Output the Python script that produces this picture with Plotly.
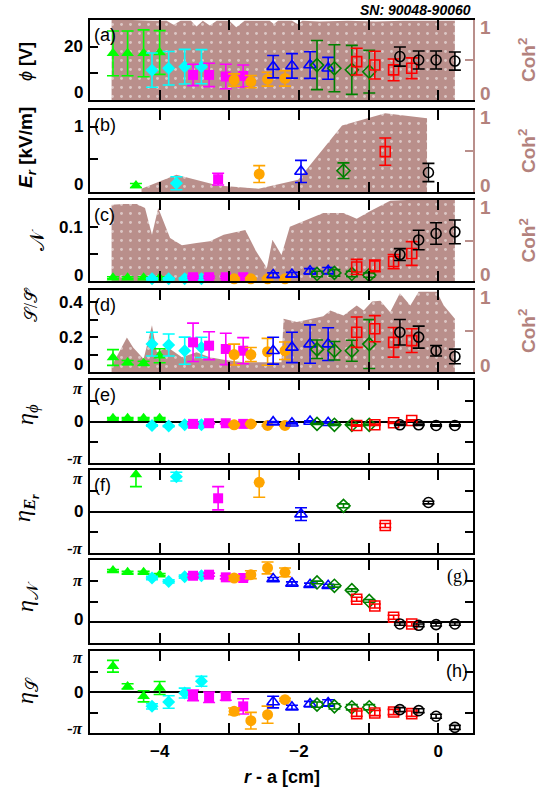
import math
import plotly.graph_objects as go

PI = math.pi

# ---------------- data ----------------
# probe radial positions r - a [cm] for each probe group (4 pins each)
x_green = [-4.67, -4.46, -4.23, -4.00]
x_cyan = [-4.11, -3.87, -3.64, -3.40]
x_magenta = [-3.52, -3.29, -3.05, -2.80]
x_orange = [-2.93, -2.69, -2.45, -2.20]
x_blue = [-2.37, -2.10, -1.84, -1.58]
x_dgreen = [-1.74, -1.49, -1.24, -0.99]
x_red = [-1.17, -0.91, -0.64, -0.38]
x_black = [-0.55, -0.28, -0.03, 0.24]

# one position per group for E_r
x_single = [-4.34, -3.76, -3.16, -2.57, -1.97, -1.36, -0.76, -0.14]

groups = ["green", "cyan", "magenta", "orange", "blue", "dgreen", "red", "black"]

# (a) phi [V]
phi_val = {"green": [17.5, 17.5, 17.5, 17.8], "cyan": [11.2, 11.9, 12.5, 12.5],
           "magenta": [9.4, 9.4, 8.8, 9.0], "orange": [7.5, 6.9, 7.8, 8.1],
           "blue": [12.5, 12.8, 13.1, 11.9], "dgreen": [13.1, 11.9, 11.3, 10.6],
           "red": [14.4, 13.1, 11.3, 11.9], "black": [16.3, 15.0, 15.0, 14.6]}
phi_err = {"green": [8.4, 8.4, 8.8, 8.2], "cyan": [6.4, 6.3, 6.5, 6.4],
           "magenta": [4.0, 4.4, 4.6, 4.1], "orange": [2.3, 2.3, 2.6, 2.9],
           "blue": [4.2, 4.6, 5.0, 4.1], "dgreen": [9.2, 8.8, 9.2, 8.0],
           "red": [5.0, 5.2, 4.1, 3.9], "black": [3.6, 3.4, 3.4, 3.4]}

# (b) E_r [kV/m]
er_val = [0.10, 0.135, 0.197, 0.275, 0.316, 0.327, 0.62, 0.30]
er_err = [0.03, 0.10, 0.09, 0.13, 0.17, 0.12, 0.21, 0.14]

# (c) N
n_val = {"green": [0.006, 0.006, 0.006, 0.006], "cyan": [0.004, 0.004, 0.004, 0.004],
         "magenta": [0.007, 0.007, 0.007, 0.007], "orange": [0.004, 0.004, 0.004, 0.004],
         "blue": [0.011, 0.012, 0.018, 0.019], "dgreen": [0.013, 0.015, 0.013, 0.011],
         "red": [0.026, 0.028, 0.036, 0.051], "black": [0.049, 0.076, 0.088, 0.091]}
n_err = {"green": [0.002, 0.002, 0.002, 0.002], "cyan": [0.002, 0.002, 0.002, 0.002],
         "magenta": [0.002, 0.002, 0.002, 0.002], "orange": [0.002, 0.002, 0.002, 0.002],
         "blue": [0.004, 0.004, 0.005, 0.006], "dgreen": [0.005, 0.006, 0.005, 0.004],
         "red": [0.014, 0.011, 0.013, 0.022], "black": [0.011, 0.018, 0.020, 0.022]}

# (d) S / S-bar
s_val = {"green": [0.083, 0.054, 0.050, 0.093], "cyan": [0.160, 0.155, 0.122, 0.141],
         "magenta": [0.170, 0.151, 0.132, 0.122], "orange": [0.100, 0.100, 0.116, 0.122],
         "blue": [0.122, 0.141, 0.160, 0.160], "dgreen": [0.130, 0.122, 0.122, 0.160],
         "red": [0.228, 0.248, 0.170, 0.180], "black": [0.228, 0.200, 0.122, 0.089]}
s_err = {"green": [0.045, 0.012, 0.012, 0.040], "cyan": [0.068, 0.063, 0.078, 0.058],
         "magenta": [0.110, 0.080, 0.090, 0.075], "orange": [0.060, 0.040, 0.077, 0.050],
         "blue": [0.077, 0.087, 0.110, 0.094], "dgreen": [0.053, 0.053, 0.060, 0.140],
         "red": [0.087, 0.075, 0.085, 0.068], "black": [0.073, 0.063, 0.030, 0.042]}

# (e) eta_phi [rad]
ephi_val = {"green": [0.25, 0.25, 0.25, 0.25], "cyan": [-0.30, -0.35, -0.25, -0.25],
            "magenta": [-0.18, -0.13, -0.13, -0.18], "orange": [-0.25, -0.18, -0.30, -0.30],
            "blue": [-0.05, -0.13, 0.0, -0.10], "dgreen": [-0.18, -0.25, -0.25, -0.25],
            "red": [-0.30, -0.25, -0.10, 0.08], "black": [-0.25, -0.25, -0.30, -0.30]}
ephi_err = {g: [0.05, 0.05, 0.05, 0.05] for g in groups}

# (f) eta_Er [rad]
eer_val = [2.81, 2.64, 1.00, 2.21, -0.20, 0.43, -1.06, 0.68]
eer_err = [0.93, 0.33, 0.88, 1.13, 0.48, 0.15, 0.15, 0.10]

# (g) eta_N [rad]
en_val = {"green": [3.91, 3.78, 3.78, 3.60], "cyan": [3.35, 3.09, 3.45, 3.52],
          "magenta": [3.52, 3.60, 3.40, 3.35], "orange": [3.35, 3.60, 4.11, 3.78],
          "blue": [3.27, 2.94, 2.84, 2.76], "dgreen": [3.01, 2.76, 2.43, 1.61],
          "red": [1.74, 1.23, 0.38, -0.13], "black": [-0.13, -0.23, -0.18, -0.13]}
en_err = {"green": [0.08, 0.08, 0.08, 0.08], "cyan": [0.12, 0.12, 0.12, 0.12],
          "magenta": [0.12, 0.12, 0.12, 0.12], "orange": [0.15, 0.30, 0.45, 0.33],
          "blue": [0.12, 0.12, 0.12, 0.12], "dgreen": [0.10, 0.10, 0.10, 0.10],
          "red": [0.15, 0.15, 0.15, 0.15], "black": [0.10, 0.10, 0.10, 0.10]}

# (h) eta_S [rad]
es_val = {"green": [1.97, 0.43, -0.33, 0.31], "cyan": [-1.10, -0.77, -0.08, 0.82],
          "magenta": [-0.26, -0.41, -0.33, -1.10], "orange": [-1.48, -2.20, -1.74, -0.59],
          "blue": [-0.77, -1.17, -0.92, -0.84], "dgreen": [-0.97, -1.10, -1.17, -1.17],
          "red": [-1.66, -1.61, -1.53, -1.66], "black": [-1.35, -1.43, -1.86, -2.71]}
es_err = {"green": [0.45, 0.20, 0.43, 0.50], "cyan": [0.20, 0.48, 0.38, 0.38],
          "magenta": [0.40, 0.40, 0.30, 0.58], "orange": [0.25, 0.64, 0.66, 0.10],
          "blue": [0.45, 0.15, 0.20, 0.25], "dgreen": [0.20, 0.20, 0.20, 0.20],
          "red": [0.20, 0.20, 0.20, 0.20], "black": [0.15, 0.15, 0.15, 0.15]}

# coherence^2 curves (right axes)
coh_a_x = [-4.69, -4.40, -4.10, -3.90, -3.80, -3.70, -3.55, -3.47, -3.38, -3.28, -3.18,
           -3.00, -2.90, -2.78, -2.60, -2.42, -2.36, -2.30, -2.10, -2.02, -1.95, -1.70,
           -1.30, -0.90, -0.50, -0.10, 0.24]
coh_a = [1.0, 1.0, 0.99, 0.99, 0.94, 0.99, 0.99, 0.92, 0.99, 0.93, 0.99,
         0.99, 0.91, 0.99, 0.99, 0.99, 0.95, 0.99, 0.99, 0.95, 0.99, 0.98,
         0.99, 0.98, 0.99, 0.99, 0.99]
coh_b_x = [-4.26, -3.76, -3.16, -2.58, -2.01, -1.38, -0.76, -0.16]
coh_b = [0.04, 0.21, 0.08, 0.04, 0.15, 0.81, 0.96, 0.90]
coh_c_x = [-4.69, -4.52, -4.33, -4.21, -4.11, -4.02, -3.85, -3.68, -3.47, -3.28, -3.08,
           -2.77, -2.61, -2.46, -2.38, -2.25, -2.13, -1.84, -1.65, -1.36, -1.17, -0.98,
           -0.69, -0.45, 0.24]
coh_c = [0.94, 0.95, 0.95, 0.90, 0.57, 0.90, 0.53, 0.44, 0.47, 0.49, 0.57,
         0.63, 0.36, 0.16, 0.51, 0.32, 0.67, 0.77, 0.84, 0.84, 0.77, 0.86,
         0.99, 1.0, 1.0]
coh_d_x = [-4.69, -4.47, -4.38, -4.23, -4.11, -4.04, -3.88, -3.68, -3.47, -3.28, -3.08,
           -2.80, -2.25, -2.22, -2.03, -1.82, -1.65, -1.55, -1.36, -1.17, -1.07, -0.95,
           -0.83, -0.69, -0.55, -0.40, -0.28, -0.02, 0.08, 0.24]
coh_d = [0.07, 0.42, 0.30, 0.16, 0.57, 0.24, 0.30, 0.18, 0.24, 0.18, 0.15,
         0.12, 0.12, 0.65, 0.61, 0.65, 0.68, 0.75, 0.69, 0.81, 0.75, 0.86,
         0.87, 0.73, 0.96, 0.81, 0.98, 0.98, 0.81, 0.65]

# ---------------- styling ----------------
SANS = "Liberation Sans, Arial, sans-serif"
SERIF = "Liberation Serif, Times New Roman, serif"
BROWN = "#b98f8b"
BROWN_TXT = "#b3827d"
x_probe = {"green": x_green, "cyan": x_cyan, "magenta": x_magenta, "orange": x_orange,
           "blue": x_blue, "dgreen": x_dgreen, "red": x_red, "black": x_black}
style = {"green": ("#00ff00", "triangle-up", 11), "cyan": ("#00ffff", "diamond", 10),
         "magenta": ("#ff00ff", "square", 10), "orange": ("#ffa500", "circle", 11),
         "blue": ("#0000ff", "triangle-up-open", 11), "dgreen": ("#008000", "diamond-open", 10),
         "red": ("#ff0000", "square-open", 10), "black": ("#000000", "circle-open", 10)}

OFF = 0                      # page body margin is removed by the post script
W, H = 538, 789
ML, MR, MT, MB = 90, 65, 20, 56
PH = H - MT - MB
PW = W - ML - MR
# panel top/bottom in page pixels
panels_px = [(20, 100), (110, 192), (200, 281), (290, 372),
             (380, 463), (470, 553), (560, 643), (651, 733)]


def py2paper(py):
    return (H - MB - (py - OFF)) / PH


def px2paper(px):
    return (px - OFF - ML) / PW


fig = go.Figure()


def ax(i, kind):
    return kind if i == 0 else f"{kind}{i + 1}"


def add_points(x, y, err, g, xa, ya):
    color, sym, size = style[g]
    fig.add_trace(go.Scatter(
        x=x, y=y, mode="markers", xaxis=xa, yaxis=ya,
        marker=dict(symbol=sym, size=size, color=color,
                    line=dict(color=color, width=1.6 if "open" in sym else 0)),
        error_y=dict(type="data", array=err, visible=True, color=color, thickness=1.6, width=6),
        cliponaxis=False, showlegend=False, hoverinfo="skip"))


def add_coh(i, cx, cy):
    fig.add_trace(go.Scatter(
        x=cx, y=cy, mode="lines", xaxis=ax(i, "x"), yaxis=ax(i, "y"),
        line=dict(width=0, color=BROWN), fill="tozeroy", fillcolor=BROWN,
        fillpattern=dict(shape=".", fgcolor="white", bgcolor=BROWN, size=9, solidity=0.08),
        showlegend=False, hoverinfo="skip"))


coh_sets = [(coh_a_x, coh_a), (coh_b_x, coh_b), (coh_c_x, coh_c), (coh_d_x, coh_d)]
for i, (cx, cy) in enumerate(coh_sets):
    add_coh(i, cx, cy)

multi = {0: (phi_val, phi_err), 2: (n_val, n_err), 3: (s_val, s_err),
         4: (ephi_val, ephi_err), 6: (en_val, en_err), 7: (es_val, es_err)}
for i, (vals, errs) in multi.items():
    ya = f"y{9 + i}" if i < 4 else ax(i, "y")
    for g in groups:
        add_points(x_probe[g], vals[g], errs[g], g, ax(i, "x"), ya)

for k, g in enumerate(groups):
    add_points([x_single[k]], [er_val[k]], [er_err[k]], g, "x2", "y10")
    add_points([x_single[k]], [eer_val[k]], [eer_err[k]], g, "x6", "y6")

# ---------------- axes ----------------
data_ranges = [[0, 30], [0, 1.26], [0, 0.15], [0, 0.47],
               [-PI, PI], [-PI, PI], [-PI / 2, 1.5 * PI], [-PI, PI]]
data_ticks = [[0, 10, 20, 30], [0, 0.5, 1], [0, 0.05, 0.1, 0.15], [0, 0.1, 0.2, 0.3, 0.4],
              [-PI, -PI / 2, 0, PI / 2, PI], [-PI, -PI / 2, 0, PI / 2, PI],
              [-PI / 2, 0, PI / 2, PI, 1.5 * PI], [-PI, -PI / 2, 0, PI / 2, PI]]

layout = dict(width=W, height=H, margin=dict(l=ML, r=MR, t=MT, b=MB, autoexpand=False),
              plot_bgcolor="white", paper_bgcolor="white", showlegend=False,
              font=dict(family=SANS, color="black"))

for i in range(8):
    top, bot = panels_px[i]
    dom = [py2paper(bot), py2paper(top)]
    xname = "xaxis" if i == 0 else f"xaxis{i + 1}"
    yname = "yaxis" if i == 0 else f"yaxis{i + 1}"
    layout[xname] = dict(domain=[0, 1], anchor=ax(i, "y"), range=[-5, 0.5],
                         showline=True, linecolor="black", linewidth=2, mirror="ticks",
                         ticks="inside", ticklen=10, tickwidth=1.5, tickcolor="black",
                         tickvals=[-4, -2, 0],
                         minor=dict(tickvals=[-3, -1], ticks="inside", ticklen=10,
                                    tickwidth=1.5, tickcolor="black", showgrid=False),
                         showticklabels=(i == 7), ticklabelstandoff=2,
                         tickfont=dict(size=17, family=SANS, weight="bold"),
                         showgrid=False, zeroline=False, automargin=False)
    if i < 4:
        layout[yname] = dict(domain=dom, anchor=ax(i, "x"), range=[0, 1], side="right",
                             showline=True, linecolor=BROWN, linewidth=2,
                             ticks="inside", ticklen=8, tickwidth=1.5, tickcolor=BROWN,
                             tickvals=[0, 0.5, 1], showticklabels=False,
                             showgrid=False, zeroline=False, automargin=False)
        layout[f"yaxis{9 + i}"] = dict(overlaying=ax(i, "y"), anchor=ax(i, "x"), side="left",
                                       range=data_ranges[i], showline=True, linecolor="black",
                                       linewidth=2, ticks="inside", ticklen=8, tickwidth=1.5,
                                       tickcolor="black", tickvals=data_ticks[i],
                                       showticklabels=False, showgrid=False, zeroline=False,
                                       automargin=False)
    else:
        layout[yname] = dict(domain=dom, anchor=ax(i, "x"), range=data_ranges[i],
                             showline=True, linecolor="black", linewidth=2, mirror="ticks",
                             ticks="inside", ticklen=8, tickwidth=1.5, tickcolor="black",
                             tickvals=data_ticks[i], showticklabels=False, showgrid=False,
                             zeroline=True, zerolinecolor="black", zerolinewidth=1.5,
                             automargin=False)

fig.update_layout(**layout)

# ---------------- text ----------------
ann = []
PI_T = "<i>π</i>"
left_labels = {
    0: [(20, "20", 0, SANS), (0, "0", 8, SANS)],
    1: [(1, "1", 0, SANS), (0, "0", 8, SANS)],
    2: [(0.1, "0.1", 0, SANS), (0, "0", 6, SANS)],
    3: [(0.4, "0.4", 0, SANS), (0.2, "0.2", 0, SANS), (0, "0", 8, SANS)],
    4: [(PI, PI_T, -8, SERIF), (0, "0", 0, SANS), (-PI, "-" + PI_T, 5, SERIF)],
    5: [(PI, PI_T, -8, SERIF), (0, "0", 0, SANS), (-PI, "-" + PI_T, 5, SERIF)],
    6: [(PI, PI_T, 0, SERIF), (0, "0", 3, SANS)],
    7: [(PI, PI_T, -6, SERIF), (0, "0", 0, SANS), (-PI, "-" + PI_T, 5, SERIF)],
}
for i, labs in left_labels.items():
    yr = f"y{9 + i}" if i < 4 else ax(i, "y")
    for v, t, sh, fam in labs:
        ann.append(dict(x=0, xref="paper", y=v, yref=yr, text="<b>" + t + "</b>",
                        xanchor="right", yanchor="middle", xshift=-5, yshift=sh,
                        showarrow=False, font=dict(size=17, family=fam, color="black")))
for i in range(4):
    for v, t, sh in [(1, "1", -7), (0, "0", 7)]:
        ann.append(dict(x=1, xref="paper", y=v, yref=ax(i, "y"), text="<b>" + t + "</b>",
                        xanchor="left", yanchor="middle", xshift=5, yshift=sh,
                        showarrow=False, font=dict(size=19, family=SANS, color=BROWN_TXT)))
    top, bot = panels_px[i]
    ann.append(dict(x=px2paper(527), xref="paper", y=py2paper((top + bot) / 2), yref="paper",
                    text="<b>Coh<sup>2</sup></b>", textangle=-90, xanchor="center",
                    yanchor="middle", showarrow=False,
                    font=dict(size=19, family=SANS, color=BROWN_TXT)))

# y-axis titles
ytitles = [
    ("<i>ϕ</i> <b>[V]</b>", 26, 62, 18, SANS),
    ("<b><i>E</i><sub><i>r</i></sub> [kV/m]</b>", 27, 148, 19, SANS),
    ("𝒩", 37, 240, 20, SERIF),
    ("𝒮/𝒮̄", 31, 305, 18, SERIF),
    ("<i>η</i><sub><i>ϕ</i></sub>", 27, 415, 24, SERIF),
    ("<i>η</i><sub><b><i>E<sub>r</sub></i></b></sub>", 25, 508, 24, SERIF),
    ("<i>η</i><sub>𝒩</sub>", 27, 597, 24, SERIF),
    ("<i>η</i><sub>𝒮</sub>", 27, 691, 24, SERIF),
]
for t, px, py, sz, fam in ytitles:
    ann.append(dict(x=px2paper(px), xref="paper", y=py2paper(py), yref="paper", text=t,
                    textangle=-90, xanchor="center", yanchor="middle", showarrow=False,
                    font=dict(size=sz, family=fam, color="black")))

# panel letters
letters = ["(a)", "(b)", "(c)", "(d)", "(e)", "(f)", "(g)", "(h)"]
for i, t in enumerate(letters):
    top, bot = panels_px[i]
    if i in (6, 7):
        ann.append(dict(x=1, xref="paper", y=py2paper(top), yref="paper", text=t,
                        xanchor="right", yanchor="top", xshift=-3, yshift=-4 if i == 6 else -8,
                        showarrow=False,
                        font=dict(size=18, family=SERIF if i == 6 else SANS, color="black")))
    else:
        ann.append(dict(x=0, xref="paper", y=py2paper(top), yref="paper", text=t,
                        xanchor="left", yanchor="top", xshift=2, yshift=-3, showarrow=False,
                        font=dict(size=18, family=SANS, color="black")))

ann.append(dict(x=px2paper(473), xref="paper", y=py2paper(10), yref="paper",
                text="<b><i>SN: 90048-90060</i></b>", xanchor="right", yanchor="middle",
                align="right", showarrow=False,
                font=dict(size=14, family=SANS, color="black")))
ann.append(dict(x=px2paper(282), xref="paper", y=py2paper(765), yref="paper",
                text="<b><i>r</i> - a [cm]</b>", xanchor="center", yanchor="top",
                showarrow=False, font=dict(size=18, family=SANS, color="black")))

fig.update_layout(annotations=ann)
fig.write_html("out.html", config={"displayModeBar": False},
               post_script="document.body.style.margin='0px';document.body.style.overflow='hidden';")
